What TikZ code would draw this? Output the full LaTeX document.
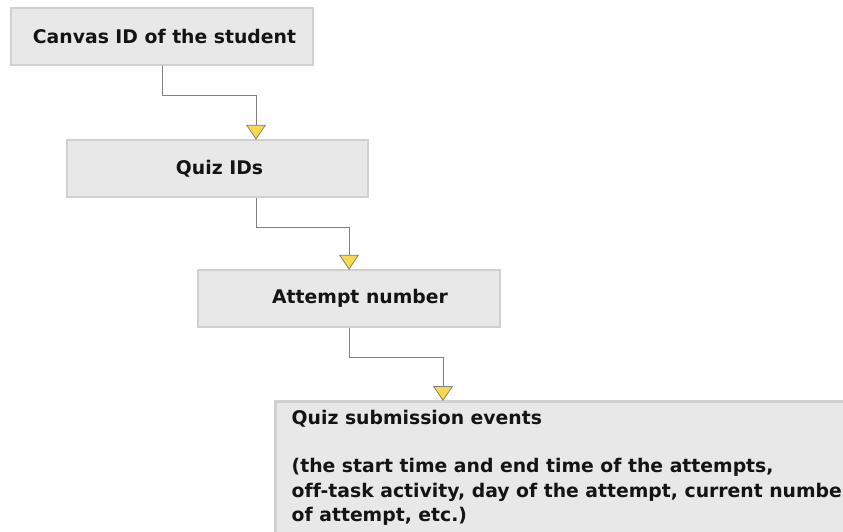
\documentclass[tikz,border=0pt]{standalone}
\usepackage{fontspec}
\setmainfont[Ligatures=NoCommon]{DejaVu Sans}
\usetikzlibrary{arrows.meta}
\definecolor{boxfill}{HTML}{E8E8E8}
\definecolor{boxline}{HTML}{D0D0D0}
\definecolor{connline}{HTML}{808080}
\definecolor{tipfill}{HTML}{F8D84C}
\definecolor{textcol}{HTML}{141414}
\tikzset{
  stagebox/.style={draw=boxline, line width=2.5pt, fill=boxfill, text=textcol,
    font=\fontsize{18.8}{24.4}\selectfont\bfseries, inner sep=0pt},
  stagetext/.style={text=textcol, font=\fontsize{18.8}{24.4}\selectfont\bfseries,
    inner sep=0pt, align=left},
  conn/.style={draw=connline, line width=0.8pt,
    -{Triangle[width=20pt,length=15pt,fill=tipfill,line width=0.8pt]},
    shorten >=-1pt}
}
\begin{document}
\begin{tikzpicture}[x=1pt,y=-1pt]
  \useasboundingbox (0,0) rectangle (843,531);
  \clip (0,0) rectangle (843,531);
  \fill[white] (0,0) rectangle (843,531);
  % stage boxes (leading space nudges the label right of centre)
  \node[stagebox, minimum width=302pt, minimum height=57pt] (b1) at (162,36.5) {\hspace*{5pt}Canvas ID of the student};
  \node[stagebox, minimum width=301pt, minimum height=57pt] (b2) at (217.5,168.5) {\hspace*{4pt}Quiz IDs};
  \node[stagebox, minimum width=302pt, minimum height=57pt] (b3) at (349,298.5) {\hspace*{22pt}Attempt number};
  \node[stagebox, anchor=north west, minimum width=620pt, minimum height=150pt] (b4) at (274,400) {};
  \node[stagetext, anchor=north west] (b4text) at (291.5,410)
    {Quiz submission events\\[24pt]
     (the start time and end time of the attempts,\\
     off-task activity, day of the attempt, current number\\
     of attempt, etc.)};
  % connectors
  \draw[conn] (b1.south) -- ++(0,29) -| ([xshift=38.5pt]b2.north);
  \draw[conn] ([xshift=38.5pt]b2.south) -- ++(0,29) -| (b3.north);
  \draw[conn] (b3.south) -- ++(0,29) -| ([xshift=169pt]b4.north west);
\end{tikzpicture}
\end{document}
